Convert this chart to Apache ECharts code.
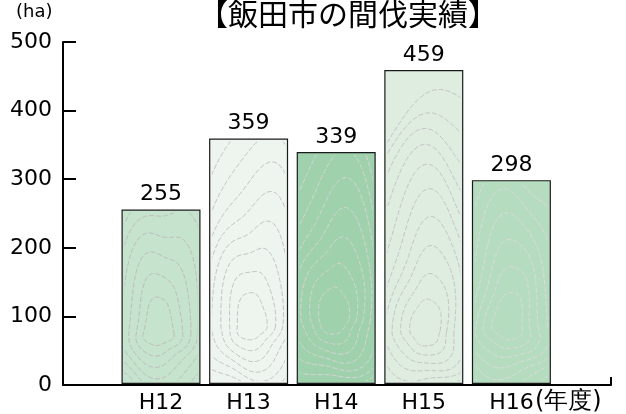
<!DOCTYPE html>
<html>
<head>
<meta charset="utf-8">
<script src="https://cdn.jsdelivr.net/npm/echarts@6/dist/echarts.min.js"></script>
<style>
html,body{margin:0;padding:0;background:#fff;}
#chart{width:626px;height:414px;}
</style>
</head>
<body>
<div id="chart"></div>
<script>
// ---- data ----
var categories = ['H12', 'H13', 'H14', 'H15', 'H16'];
var values = [255, 359, 339, 459, 298];
var yTicks = [0, 100, 200, 300, 400, 500];
var barColors = ['#c6e3cd', '#eef5ee', '#a0d1ad', '#dfede1', '#b6dcc0'];
var grainColors = ['#bdbdbd', '#c4c4c4', '#d4d4d4', '#c4c4c4', '#dadada'];
var titleText = '【飯田市の間伐実績】';
var yUnit = '(ha)';
var xUnit = '(年度)';

var numFont = '"DejaVu Sans", "Liberation Sans", Arial, sans-serif';
var cjkFont = '"Noto Sans CJK JP", "DejaVu Sans", sans-serif';
var BAR_W = 79;

var chart = echarts.init(document.getElementById('chart'), null, {renderer: 'canvas'});

function makeData(colors) {
  return values.map(function (v, i) {
    return {value: v, itemStyle: {color: colors[i]}};
  });
}

var option = {
  backgroundColor: '#ffffff',
  animation: false,
  title: {
    text: titleText,
    left: 198,
    top: -1,
    padding: 0,
    textStyle: {fontFamily: cjkFont, fontSize: 30, fontWeight: 'normal', color: '#000'}
  },
  grid: [
    {left: 63, right: 15, top: 42, bottom: 29, containLabel: false},
    {left: 117.2, right: 70.8, top: 42, bottom: 29, containLabel: false}
  ],
  xAxis: [
    {
      gridIndex: 0, type: 'value', min: 0, max: 1, interval: 1,
      axisLine: {show: true, lineStyle: {color: '#000', width: 2}},
      axisTick: {show: true, inside: true, length: 8, lineStyle: {color: '#000', width: 2}},
      axisLabel: {show: false},
      splitLine: {show: false}
    },
    {
      gridIndex: 1, type: 'category', data: categories,
      axisLine: {show: false},
      axisTick: {show: false},
      axisLabel: {color: '#000', fontSize: 22, fontFamily: numFont, margin: 8},
      splitLine: {show: false}
    }
  ],
  yAxis: [
    {
      gridIndex: 0, type: 'value', min: yTicks[0], max: yTicks[yTicks.length - 1], interval: 100,
      axisLine: {show: true, lineStyle: {color: '#000', width: 2}},
      axisTick: {show: true, inside: true, length: 13, lineStyle: {color: '#000', width: 2}},
      axisLabel: {color: '#000', fontSize: 22, fontFamily: numFont, margin: 11},
      splitLine: {show: false}
    },
    {
      gridIndex: 1, type: 'value', min: yTicks[0], max: yTicks[yTicks.length - 1],
      show: false, splitLine: {show: false}
    }
  ],
  series: [
    {
      type: 'bar',
      xAxisIndex: 1,
      yAxisIndex: 1,
      data: makeData(barColors),
      barWidth: BAR_W,
      itemStyle: {borderColor: '#1a1a1a', borderWidth: 1.2},
      label: {
        show: true, position: 'top', distance: 4,
        color: '#000', fontSize: 22, fontFamily: numFont
      }
    }
  ],
  graphic: [
    {
      type: 'text', left: 16, top: 3,
      style: {text: yUnit, fontSize: 18, fontFamily: numFont, fill: '#000'}
    },
    {
      type: 'text', left: 535, top: 390,
      style: {text: xUnit, fontSize: 24, fontFamily: numFont, fill: '#000'}
    }
  ]
};

chart.setOption(option);

// decorative wood-grain contour texture, placed using the library's own scales
function texture(i) {
  var cv = document.createElement('canvas');
  cv.width = 626; cv.height = 414;
  var ctx = cv.getContext('2d');
  ctx.fillStyle = barColors[i];
  ctx.fillRect(0, 0, 626, 414);
  var top = chart.convertToPixel({xAxisIndex: 1, yAxisIndex: 1}, [i, values[i]]);
  var base = chart.convertToPixel({xAxisIndex: 1, yAxisIndex: 1}, [i, 0]);
  var cx = top[0], x0 = cx - BAR_W / 2, y0 = top[1], h = base[1] - top[1];
  ctx.save();
  ctx.beginPath();
  ctx.rect(x0 + 3, y0 + 3, BAR_W - 6, h - 6);
  ctx.clip();
  ctx.strokeStyle = grainColors[i];
  ctx.lineWidth = 1;
  ctx.setLineDash([5, 2]);
  var ccx = cx - 3 + (i % 2) * 5, ccy = base[1] - 52 - (i % 3) * 6;
  for (var k = 1; k <= 10; k++) {
    var rx = 7 + k * 8, ry = 10 + k * 24;
    ctx.beginPath();
    for (var t = 0; t <= 72; t++) {
      var a = t / 72 * Math.PI * 2;
      var wob = 1 + 0.07 * Math.sin(3 * a + k * 0.7 + i) + 0.04 * Math.sin(5 * a + i * 1.3);
      var px = ccx + rx * wob * Math.cos(a) + (Math.sin(a) < 0 ? -Math.sin(a) * k * 1.5 : 0);
      var py = ccy + ry * wob * Math.sin(a) * (Math.sin(a) > 0 ? 0.4 : 1);
      if (t === 0) ctx.moveTo(px, py); else ctx.lineTo(px, py);
    }
    ctx.closePath();
    ctx.stroke();
  }
  ctx.restore();
  return {image: cv, repeat: 'no-repeat'};
}

var patterns = values.map(function (v, i) { return texture(i); });
chart.setOption({series: [{data: makeData(patterns)}]});
</script>
</body>
</html>
